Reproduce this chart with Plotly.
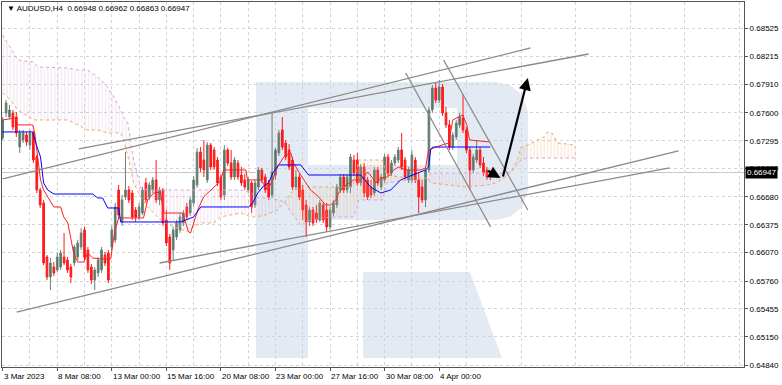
import plotly.graph_objects as go
import numpy as np

# ---------------- data ----------------
bar_index = list(range(144))
opens = [0.67325,0.67599,0.67555,0.67599,0.67555,0.67226,0.67303,0.67358,0.67248,0.67380,
         0.67117,0.66756,0.66614,0.66023,0.65804,0.65913,0.65881,0.65913,0.66023,0.65990,
         0.65913,0.65957,0.66023,0.66132,0.66319,0.66100,0.65913,0.65771,0.65848,0.65881,
         0.66045,0.66067,0.66132,0.66209,0.66756,0.66406,0.66679,0.66756,0.66723,0.66537,
         0.66461,0.66504,0.66833,0.66679,0.66756,0.66866,0.66647,0.66756,0.66428,0.66242,
         0.66100,0.66242,0.66319,0.66395,0.66570,0.66504,0.66614,0.66811,0.67172,0.67084,
         0.66866,0.67248,0.67194,0.67084,0.66898,0.66701,0.67194,0.67051,0.66898,0.67051,
         0.66920,0.66866,0.66756,0.66833,0.66592,0.66789,0.66975,0.66898,0.66833,0.66701,
         0.66920,0.67161,0.67413,0.67270,0.67194,0.67084,0.66789,0.66898,0.66756,0.66592,
         0.66406,0.66537,0.66504,0.66428,0.66592,0.66537,0.66351,0.66504,0.66592,0.66756,
         0.66898,0.66756,0.66789,0.67084,0.67084,0.66833,0.67008,0.66866,0.66789,0.66723,
         0.66975,0.66789,0.66866,0.67117,0.66942,0.67051,0.67084,0.67194,0.67084,0.66866,
         0.66866,0.67084,0.66866,0.66789,0.66647,0.66975,0.67632,0.67872,0.67741,0.67883,
         0.67599,0.67468,0.67226,0.67336,0.67468,0.67544,0.67413,0.67194,0.66975,0.67084,
         0.67194,0.67051,0.66975,0.66948]
highs = [0.67555,0.67741,0.67686,0.67632,0.67610,0.67413,0.67413,0.67391,0.67413,0.67402,
         0.67139,0.66778,0.66647,0.66045,0.66012,0.65968,0.66067,0.66100,0.66286,0.66023,
         0.65946,0.66154,0.66209,0.66340,0.66351,0.66132,0.65946,0.65913,0.66023,0.66132,
         0.66078,0.66100,0.66362,0.66614,0.66811,0.66701,0.67172,0.66800,0.66756,0.66570,
         0.66614,0.66789,0.66888,0.66844,0.66898,0.67084,0.66789,0.66778,0.66537,0.66275,
         0.66351,0.66428,0.66504,0.66537,0.66614,0.66679,0.66909,0.67216,0.67226,0.67303,
         0.67281,0.67270,0.67226,0.67117,0.66931,0.67248,0.67216,0.67194,0.67117,0.67084,
         0.67008,0.66931,0.66898,0.66855,0.66866,0.67008,0.66997,0.66931,0.66866,0.67610,
         0.67216,0.67413,0.67555,0.67303,0.67259,0.67117,0.66975,0.66931,0.66811,0.66647,
         0.66570,0.66570,0.66592,0.66647,0.66614,0.66614,0.66570,0.66647,0.66822,0.66931,
         0.66931,0.66931,0.67150,0.67139,0.67161,0.67040,0.67051,0.66898,0.66866,0.67008,
         0.67008,0.66931,0.67150,0.67150,0.67084,0.67150,0.67226,0.67380,0.67117,0.67008,
         0.67194,0.67117,0.66942,0.66866,0.67008,0.67664,0.67905,0.67927,0.67960,0.67916,
         0.67664,0.67522,0.67391,0.67522,0.67599,0.67796,0.67445,0.67226,0.67150,0.67303,
         0.67226,0.67117,0.67008,0.66962]
lows = [0.67303,0.67555,0.67534,0.67413,0.67336,0.67161,0.67270,0.67237,0.67194,0.67051,
        0.66723,0.66559,0.65935,0.65771,0.65662,0.65815,0.65859,0.65881,0.65935,0.65848,
        0.65738,0.65924,0.65990,0.66100,0.65990,0.65848,0.65727,0.65662,0.65804,0.65848,
        0.65924,0.65738,0.66100,0.66176,0.66450,0.66362,0.66647,0.66614,0.66428,0.66406,
        0.66428,0.66482,0.66614,0.66647,0.66723,0.66614,0.66592,0.66362,0.66143,0.65881,
        0.65990,0.66209,0.66286,0.66362,0.66428,0.66472,0.66581,0.66778,0.66953,0.66898,
        0.66833,0.66975,0.66975,0.66800,0.66647,0.66647,0.67018,0.66866,0.66866,0.66866,
        0.66800,0.66756,0.66723,0.66504,0.66559,0.66756,0.66833,0.66723,0.66647,0.66668,
        0.66866,0.67128,0.67194,0.67084,0.66975,0.66756,0.66756,0.66647,0.66428,0.66242,
        0.66362,0.66362,0.66395,0.66406,0.66395,0.66297,0.66319,0.66472,0.66559,0.66723,
        0.66723,0.66723,0.66723,0.66909,0.66800,0.66800,0.66679,0.66647,0.66668,0.66690,
        0.66800,0.66756,0.66833,0.66909,0.66909,0.67018,0.67051,0.66975,0.66866,0.66833,
        0.66833,0.66833,0.66504,0.66614,0.66570,0.66942,0.67599,0.67708,0.67708,0.67566,
        0.67435,0.67194,0.67194,0.67303,0.67435,0.67380,0.67161,0.66756,0.66942,0.67051,
        0.66997,0.66909,0.66866,0.66863]
closes = [0.67522,0.67708,0.67632,0.67445,0.67380,0.67380,0.67380,0.67281,0.67380,0.67084,
          0.66756,0.66592,0.65957,0.65804,0.65957,0.65848,0.66023,0.66067,0.65957,0.65881,
          0.65804,0.66132,0.66176,0.66286,0.66023,0.65881,0.65771,0.65881,0.65990,0.66100,
          0.65957,0.65771,0.66319,0.66570,0.66482,0.66647,0.66756,0.66647,0.66461,0.66461,
          0.66570,0.66756,0.66647,0.66811,0.66866,0.66647,0.66756,0.66395,0.66176,0.65957,
          0.66319,0.66395,0.66461,0.66504,0.66461,0.66647,0.66866,0.67172,0.66997,0.66975,
          0.67248,0.67008,0.67008,0.66833,0.66679,0.67194,0.67051,0.66898,0.67084,0.66898,
          0.66833,0.66789,0.66866,0.66570,0.66833,0.66975,0.66866,0.66756,0.66679,0.66953,
          0.67194,0.67380,0.67226,0.67117,0.67008,0.66789,0.66898,0.66679,0.66537,0.66406,
          0.66537,0.66395,0.66428,0.66614,0.66428,0.66351,0.66537,0.66614,0.66789,0.66898,
          0.66756,0.66898,0.67117,0.66942,0.66833,0.67008,0.66723,0.66679,0.66701,0.66975,
          0.66833,0.66898,0.67117,0.66942,0.67051,0.67117,0.67194,0.67008,0.66898,0.66975,
          0.67139,0.66866,0.66679,0.66647,0.66975,0.67632,0.67872,0.67741,0.67883,0.67599,
          0.67468,0.67226,0.67358,0.67489,0.67555,0.67413,0.67194,0.66975,0.67117,0.67194,
          0.67030,0.66942,0.66898,0.66947]

tenkan_idx = [0,3.8,4.4,8.8,9.4,11.1,12,13.2,15,17,17.9,19.1,19.9,20.8,22,23.8,24.9,26.4,28.7,31.7,
              32.3,33,34,41.3,42.5,44.3,46.3,47.2,52.8,54.5,55.1,57.2,58.9,61,63.9,64.8,71.3,71.8,75.7,77.7,
              79.2,80.6,82.4,84.5,85.3,87.4,90.3,92.7,94.7,96.2,97.7,98.5,100,102.9,105,105.9,107,108.5,109.4,110.9,
              112.9,114.7,116.1,118.2,120.2,122.6,124,124.9,127.9,130.8,132,134.9,136.1,136.9,143]
tenkan_val = [0.67522,0.67544,0.67468,0.67468,0.67380,0.66866,0.66756,0.66679,0.66570,0.66570,0.66461,0.66395,0.66242,0.66067,0.65968,0.65968,0.66067,0.66012,0.66001,0.66001,
              0.66176,0.66319,0.66450,0.66450,0.66647,0.66723,0.66734,0.66504,0.66504,0.66297,0.66286,0.66537,0.66679,0.66756,0.66855,0.66975,0.66975,0.66866,0.66866,0.66756,
              0.66866,0.67008,0.67117,0.67161,0.67051,0.66920,0.66756,0.66679,0.66592,0.66592,0.66647,0.66723,0.66789,0.66866,0.66866,0.66898,0.66953,0.66888,0.66833,0.66888,
              0.66898,0.66975,0.67008,0.66975,0.66975,0.66975,0.66997,0.67194,0.67237,0.67270,0.67522,0.67577,0.67468,0.67303,0.67281]
kijun_idx = [0,8.8,9.9,11.1,12,13.2,15,26.4,27.9,29.3,30.8,34,34.6,52.2,56,58.1,72.1,73.3,74.8,76.5,
             78,79.2,80.9,87.4,89.7,105,107.9,110.9,113.8,116.7,121.7,124,124.9,125.5,126.1,143]
kijun_val = [0.67391,0.67391,0.67248,0.67117,0.66833,0.66756,0.66712,0.66712,0.66668,0.66668,0.66559,0.66559,0.66406,0.66406,0.66461,0.66570,0.66570,0.66614,0.66723,0.66800,
             0.66833,0.66942,0.67030,0.67030,0.66920,0.66920,0.66789,0.66723,0.66756,0.66866,0.66942,0.66975,0.67008,0.67194,0.67226,0.67226]

cloud_idx = [0,2.3,4.4,9.1,10.3,19.1,22.0,24.9,27.9,30.8,32.6,34.6,35.5,36.7,37.5,38.4,40.5,42.5,44.3,46.3,
             50.2,54.3,56.0,58.1,61.9,63.9,69.8,72.7,74.2,77.1,80.6,82.7,84.5,87.4,90.3,96.2,102.6,103.8,104.4,111.4,
             112.6,116.7,124.6,124.9,125.5,136.1,142.2,144.6,147.5,149.0,151.0,151.9,154.0,158.7,159.8,161.0,162.8,168.0]
senkou_a = [0.67817,0.67741,0.67632,0.67522,0.67522,0.67522,0.67468,0.67413,0.67413,0.67380,
            0.67380,0.67380,0.67303,0.67139,0.67008,0.66833,0.66679,0.66570,0.66504,0.66428,
            0.66351,0.66297,0.66351,0.66395,0.66395,0.66461,0.66504,0.66461,0.66461,0.66482,
            0.66537,0.66625,0.66723,0.66789,0.66789,0.66789,0.66789,0.66975,0.67084,0.67084,
            0.66920,0.66898,0.66888,0.66877,0.66833,0.66789,0.66811,0.66833,0.66898,0.66953,
            0.67084,0.67216,0.67248,0.67336,0.67391,0.67380,0.67270,0.67248]
senkou_b = [0.68452,0.68310,0.68178,0.68156,0.68102,0.68091,0.68069,0.68069,0.67992,0.67883,
            0.67773,0.67632,0.67555,0.67489,0.67303,0.67084,0.66778,0.66756,0.66756,0.66756,
            0.66756,0.66756,0.66756,0.66756,0.66756,0.66756,0.66756,0.66734,0.66679,0.66668,
            0.66647,0.66625,0.66515,0.66373,0.66428,0.66461,0.66461,0.66537,0.66647,0.66647,
            0.66833,0.66855,0.66866,0.66877,0.66942,0.66942,0.66942,0.66931,0.66942,0.66953,
            0.67030,0.67084,0.67106,0.67106,0.67106,0.67106,0.67106,0.67106]

# analyst drawings (bar index, price)
trend_x0 = [0, 22.3, 4.1, 46.0, 118.2, 129.3]
trend_y0 = [0.66877, 0.67205, 0.65420, 0.65957, 0.68036, 0.68178]
trend_x1 = [154.8, 171.8, 198.2, 195.6, 143.1, 154.0]
trend_y1 = [0.68310, 0.68244, 0.67183, 0.66997, 0.66351, 0.66537]
arrow_x0 = [141.9, 146.6]
arrow_y0 = [0.66975, 0.66888]
arrow_x1 = [146.0, 154.0]
arrow_y1 = [0.66888, 0.67981]

price_ticks = [0.68525, 0.68215, 0.67910, 0.67600, 0.67295, 0.66990, 0.66680,
               0.66375, 0.66070, 0.65760, 0.65455, 0.65150, 0.64840]
time_label_idx = [0, 16, 32, 48, 64, 80, 96, 112, 128]
time_labels = ["3 Mar 2023", "8 Mar 08:00", "13 Mar 00:00", "15 Mar 16:00", "20 Mar 08:00",
               "23 Mar 00:00", "27 Mar 16:00", "30 Mar 08:00", "4 Apr 00:00"]
header = "▼ AUDUSD,H4  0.66948 0.66962 0.66863 0.66947"
last_price = 0.66947

# ---------------- styling ----------------
W, H = 782, 385
ML, MR, MT, MB = 2, 38, 2, 18
PW, PH = W - ML - MR, H - MT - MB
FONT = "Liberation Sans, DejaVu Sans, sans-serif"
BULL_BODY, BULL_WICK = "#3d7d5c", "#6f7f78"
BEAR = "#ff1a1a"
ORANGE, PLUM = "#f4a460", "#d2a6d2"
WM = "#e4eaf3"

fig = go.Figure()

a = np.array(senkou_a)
b = np.array(senkou_b)
top = np.maximum(a, b)

# Kumo: thistle where B above A, sandy brown where A above B
for lower, col in ((a, PLUM), (b, ORANGE)):
    fig.add_trace(go.Scatter(x=cloud_idx, y=lower, mode="lines", line=dict(width=0),
                             hoverinfo="skip", showlegend=False))
    fig.add_trace(go.Scatter(x=cloud_idx, y=top, mode="lines", line=dict(width=0),
                             fill="tonexty", fillcolor="rgba(0,0,0,0)",
                             fillpattern=dict(shape="|", fgcolor=col, bgcolor="rgba(0,0,0,0)",
                                              size=3.4, solidity=0.2, fillmode="overlay"),
                             hoverinfo="skip", showlegend=False))
fig.add_trace(go.Scatter(x=cloud_idx, y=senkou_a, mode="lines",
                         line=dict(color=ORANGE, width=1, dash="dot"), showlegend=False))
fig.add_trace(go.Scatter(x=cloud_idx, y=senkou_b, mode="lines",
                         line=dict(color=PLUM, width=1, dash="dot"), showlegend=False))

fig.add_trace(go.Candlestick(
    x=bar_index, open=opens, high=highs, low=lows, close=closes,
    increasing=dict(line=dict(color=BULL_WICK, width=1), fillcolor=BULL_BODY),
    decreasing=dict(line=dict(color=BEAR, width=1), fillcolor=BEAR),
    whiskerwidth=0, showlegend=False))

fig.add_trace(go.Scatter(x=tenkan_idx, y=tenkan_val, mode="lines",
                         line=dict(color="#ff2020", width=1), showlegend=False))
fig.add_trace(go.Scatter(x=kijun_idx, y=kijun_val, mode="lines",
                         line=dict(color="#0000ff", width=1), showlegend=False))

shapes = []
# bid line
shapes.append(dict(type="line", xref="paper", x0=0, x1=1, yref="y", y0=last_price, y1=last_price,
                   line=dict(color="#c8c8c8", width=1), layer="below"))
# trend lines
for x0, y0, x1, y1 in zip(trend_x0, trend_y0, trend_x1, trend_y1):
    shapes.append(dict(type="line", xref="x", yref="y", x0=x0, y0=y0, x1=x1, y1=y1,
                       line=dict(color="#8a8a8a", width=1.3)))

# watermark logo (page pixels -> paper)
def P(px, py):
    return (px - ML) / PW, (H - MB - py) / PH

def path(pts):
    s = ""
    for i, (px, py) in enumerate(pts):
        x, y = P(px, py)
        s += ("M" if i == 0 else "L") + f"{x:.5f},{y:.5f} "
    return s + "Z"

def rect(x0, y0, x1, y1, col):
    X0, Y0 = P(x0, y0)
    X1, Y1 = P(x1, y1)
    return dict(type="rect", xref="paper", yref="paper", x0=X0, y0=Y0, x1=X1, y1=Y1,
                fillcolor=col, line=dict(width=0), layer="below")

shapes.append(rect(256, 82, 308, 358, WM))
bowl = [(308, 82), (495, 82), (510, 85), (522, 95), (528, 112), (528, 190), (522, 207),
        (510, 217), (495, 220), (308, 220)]
shapes.append(dict(type="path", xref="paper", yref="paper", path=path(bowl),
                   fillcolor=WM, line=dict(width=0), layer="below"))
shapes.append(rect(308, 108, 457, 165, "white"))
leg = [(363, 272), (470, 272), (502, 358), (363, 358)]
shapes.append(dict(type="path", xref="paper", yref="paper", path=path(leg),
                   fillcolor=WM, line=dict(width=0), layer="below"))

ann = []
for i, t in zip(time_label_idx, time_labels):
    ann.append(dict(x=i, xref="x", y=-9 / PH, yref="paper", text=t, showarrow=False,
                    xanchor="left", yanchor="middle", xshift=-1,
                    font=dict(family=FONT, size=8, color="black")))
ann.append(dict(x=3 / PW, xref="paper", y=1 - 6 / PH, yref="paper", text=header, showarrow=False,
                xanchor="left", yanchor="middle", font=dict(family=FONT, size=8, color="black")))
ann.append(dict(x=1, xref="paper", y=last_price, yref="y", text="0.66947", showarrow=False,
                xanchor="left", yanchor="middle", xshift=1, bgcolor="black", borderpad=1,
                font=dict(family=FONT, size=8, color="white")))
for x0, y0, x1, y1 in zip(arrow_x0, arrow_y0, arrow_x1, arrow_y1):
    ann.append(dict(x=x1, y=y1, xref="x", yref="y", ax=x0, ay=y0, axref="x", ayref="y",
                    text="", showarrow=True, arrowhead=2, arrowsize=1.1, arrowwidth=2.2,
                    arrowcolor="black"))

fig.update_layout(
    width=W, height=H, margin=dict(l=ML, r=MR, t=MT, b=MB),
    paper_bgcolor="white", plot_bgcolor="white", showlegend=False,
    shapes=shapes, annotations=ann,
    xaxis=dict(range=[-0.2, PW / 3.41 - 0.2], rangeslider=dict(visible=False),
               tickvals=time_label_idx, showticklabels=False, ticks="outside", ticklen=3,
               tickcolor="#555", showgrid=True, gridcolor="#d4d4d4", griddash="3px,3px",
               minor=dict(tickvals=list(range(8, 218, 16)), showgrid=True, gridcolor="#d4d4d4",
                          griddash="3px,3px", ticks=""),
               showline=True, linecolor="#555", linewidth=1, mirror=True, zeroline=False),
    yaxis=dict(range=[0.64819, 0.68813], side="right", tickvals=price_ticks,
               ticktext=[f"{v:.5f}" for v in price_ticks], ticks="outside", ticklen=3,
               tickcolor="#555", tickfont=dict(family=FONT, size=8, color="black"),
               showgrid=True, gridcolor="#d4d4d4", griddash="3px,3px",
               showline=True, linecolor="#555", linewidth=1, mirror=True, zeroline=False),
)

fig.write_html("out.html")
